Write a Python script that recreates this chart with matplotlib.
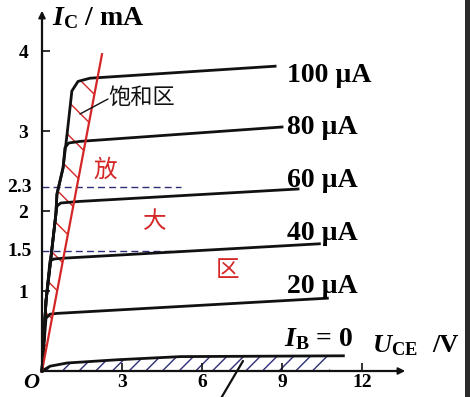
import numpy as np
import matplotlib.pyplot as plt
from matplotlib.patches import Polygon, Rectangle

plt.rcParams['font.family'] = ['Liberation Serif', 'Noto Sans CJK SC', 'DejaVu Sans']
plt.rcParams['mathtext.fontset'] = 'custom'
plt.rcParams['mathtext.rm'] = 'Liberation Serif:bold'
plt.rcParams['mathtext.it'] = 'Liberation Serif:italic:bold'
plt.rcParams['hatch.linewidth'] = 1.0

# --- data (U_CE in V, I_C in mA) ---
# steep rising part shared by all the output curves
rise_u = [0, 0.15, 0.52, 0.56, 0.79, 0.94, 1.12]
rise_i = [0, 0.875, 1.96, 2.21, 2.54, 2.96, 3.5]

ib_labels = ['20 µA', '40 µA', '60 µA', '80 µA', '100 µA']
knee_u = [0.15, 0.30, 0.56, 0.86, 1.12]
knee_i = [0.66, 1.375, 2.06, 2.79, 3.50]
bend_u = [0.30, 0.45, 0.70, 1.00, 1.35]
bend_i = [0.71, 1.40, 2.10, 2.85, 3.62]
flat_u = [0.56, 0.79, 1.42, 1.42, 1.80]
flat_i = [0.72, 1.41, 2.12, 2.87, 3.66]
end_u = [10.7, 10.4, 9.6, 9.0, 8.74]
end_i = [0.91, 1.59, 2.275, 3.05, 3.81]

# I_B = 0 curve (cut-off region)
cut_u = [0, 0.3, 0.94, 2.8, 5.2, 11.3]
cut_i = [0, 0.06, 0.10, 0.14, 0.18, 0.19]
cut_hatch_end = 10.8

# saturation boundary (red line) and where it meets the 100 uA curve
sat_u = [0, 2.25]
sat_i = [0, 3.96]
sat_cross = (2.08, 3.66)

# marked currents (dashed)
mark_i = [2.3, 1.5]
mark_labels = ['2.3', '1.5']
mark_end = 5.2

xticks = [3, 6, 9, 12]
yticks = [1, 2, 3, 4]

# --- layout: picture pixel -> data ---
X0, Y0 = 42.0, 371.0   # origin in pixels
SX, SY = 26.67, 80.0   # pixels per V, per mA
W, H = 470, 397


def px(x, y):
    return ((x - X0) / SX, (Y0 - y) / SY)


fig = plt.figure(figsize=(W / 100, H / 100), dpi=100)
ax = fig.add_axes([0, 0, 1, 1])
ax.set_xlim(-X0 / SX, (W - X0) / SX)
ax.set_ylim((Y0 - H) / SY, Y0 / SY)

black = '#111111'
red = '#d42626'
navy = '#2e2e78'

# axes through the origin
for s in ['top', 'right']:
    ax.spines[s].set_visible(False)
ax.spines['left'].set_position(('data', 0))
ax.spines['bottom'].set_position(('data', 0))
ax.spines['left'].set_bounds(0, px(0, 14)[1])
ax.spines['bottom'].set_bounds(0, px(400, 0)[0])
for s in ['left', 'bottom']:
    ax.spines[s].set_linewidth(1.6)
    ax.spines[s].set_color(black)
ax.annotate('', xy=(0, px(0, 8)[1]), xytext=(0, px(0, 20)[1]),
            arrowprops=dict(arrowstyle='-|>', color=black, lw=1.4, mutation_scale=10))
ax.annotate('', xy=(px(408, 0)[0], 0), xytext=(px(395, 0)[0], 0),
            arrowprops=dict(arrowstyle='-|>', color=black, lw=1.4, mutation_scale=10))

ax.set_xticks(xticks)
ax.set_yticks(yticks)
ax.tick_params(direction='in', length=6, width=1.2, color=black,
               labelsize=14)
ax.tick_params(axis='x', pad=2)
ax.tick_params(axis='y', pad=10)
for lab in ax.get_xticklabels() + ax.get_yticklabels():
    lab.set_fontweight('bold')

# dashed marks at 2.3 and 1.5 mA
for yi, lab in zip(mark_i, mark_labels):
    ax.plot([0, mark_end], [yi, yi], color=navy, lw=1.0, dashes=(5, 3))
    ax.text(px(32, 0)[0], yi, lab, ha='right', va='center',
            fontsize=14, fontweight='bold')

# saturation region hatch
poly_u = list(rise_u) + [bend_u[-1], flat_u[-1], sat_cross[0]]
poly_i = list(rise_i) + [bend_i[-1], flat_i[-1], sat_cross[1]]
ax.add_patch(Polygon(np.column_stack([poly_u, poly_i]), closed=True,
                     facecolor='none', edgecolor=red, lw=0, hatch='\\'))

# cut-off region hatch
cu = np.array(cut_u)
ci = np.array(cut_i)
keep = cu <= cut_hatch_end
fu = np.append(cu[keep], cut_hatch_end)
fi = np.append(ci[keep], np.interp(cut_hatch_end, cu, ci))
ax.fill_between(fu, 0, fi, facecolor='none', edgecolor=navy, lw=0, hatch='//')

# output curves
for k in range(len(ib_labels)):
    us = [u for u, i in zip(rise_u, rise_i) if i < knee_i[k]]
    is_ = [i for i in rise_i if i < knee_i[k]]
    us += [knee_u[k], bend_u[k], flat_u[k], end_u[k]]
    is_ += [knee_i[k], bend_i[k], flat_i[k], end_i[k]]
    ax.plot(us, is_, color=black, lw=2.0, solid_joinstyle='round')

ax.plot(cut_u, cut_i, color=black, lw=2.0)

# red boundary line
ax.plot(sat_u, sat_i, color=red, lw=1.6)

# curve labels
label_y = [293, 240, 187, 134, 82]
for lab, yy in zip(ib_labels, label_y):
    ax.text(*px(287, yy), lab, ha='left', va='baseline', fontsize=20,
            fontweight='bold')

ax.text(*px(284, 346), r'$I_{\mathrm{B}}$ = 0', ha='left', va='baseline',
        fontsize=20, fontweight='bold')
ax.text(*px(372, 352), r'$U_{\mathrm{CE}}$', ha='left', va='baseline',
        fontsize=19)
ax.text(*px(432, 352), '/V', ha='left', va='baseline', fontsize=19,
        fontweight='bold')
ax.text(*px(52, 25), r'$I_{\mathrm{C}}$ / mA', ha='left', va='baseline',
        fontsize=20, fontweight='bold')
ax.text(*px(32, 383), r'$O$', ha='center', va='center', fontsize=16)

# region names
cjk = ['Noto Sans CJK SC', 'DejaVu Sans']
ax.text(*px(108, 97), '饱和区', ha='left', va='center', fontsize=16,
        family=cjk, color=black)
ax.annotate('', xy=px(80, 114), xytext=px(108, 99),
            arrowprops=dict(arrowstyle='-', color=black, lw=1.0,
                            shrinkA=0, shrinkB=0))
ax.text(*px(105, 170), '放', ha='center', va='center', fontsize=17,
        family=cjk, color=red)
ax.text(*px(155, 222), '大', ha='center', va='center', fontsize=17,
        family=cjk, color=red)
ax.text(*px(228, 270), '区', ha='center', va='center', fontsize=17,
        family=cjk, color=red)

# leader to the cut-off region
ax.annotate('', xy=px(243, 361), xytext=px(220, 400),
            arrowprops=dict(arrowstyle='-', color=black, lw=1.6,
                            shrinkA=0, shrinkB=0), annotation_clip=False)

# dark frame edge on the right
fig.add_artist(Rectangle((465 / W, 0), 5 / W, 1, transform=fig.transFigure,
                         color='#2b2b2b', lw=0))

fig.savefig('out.png', dpi=100)
